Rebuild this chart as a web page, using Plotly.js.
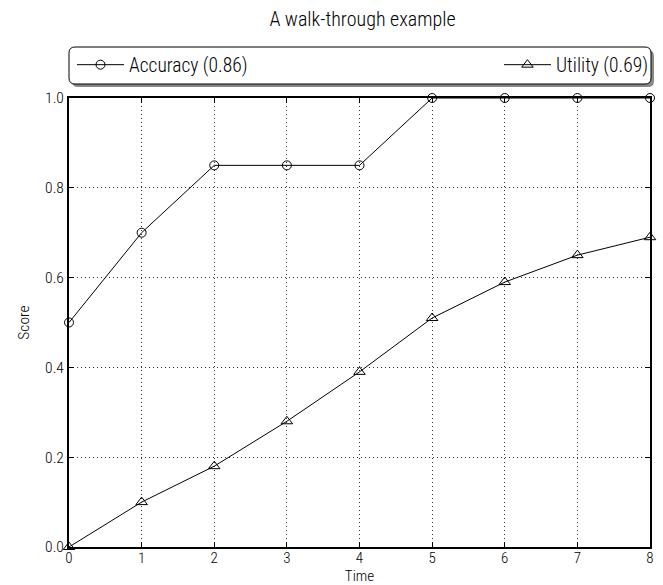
<!DOCTYPE html>
<html>
<head>
<meta charset="utf-8">
<script src="https://cdn.plot.ly/plotly-3.0.1.min.js"></script>
<style>html,body{margin:0;padding:0;background:#fff;}</style>
</head>
<body>
<div id="chart" style="width:663px;height:585px;"></div>
<script>
const timeSteps = [0, 1, 2, 3, 4, 5, 6, 7, 8];
const accuracy = [0.5, 0.7, 0.85, 0.85, 0.85, 1.0, 1.0, 1.0, 1.0];
const utility = [0.0, 0.1, 0.18, 0.28, 0.39, 0.51, 0.59, 0.65, 0.69];
const seriesNames = ['Accuracy (0.86)', 'Utility (0.69)'];
const yTicks = [0, 0.2, 0.4, 0.6, 0.8, 1.0];
const yTickLabels = ['0.0', '0.2', '0.4', '0.6', '0.8', '1.0'];

const FONT = '"Roboto Condensed", Roboto, sans-serif';
const WT = 350;

const traces = [
  {x: timeSteps, y: accuracy, name: seriesNames[0], mode: 'lines+markers',
   line: {color: '#000', width: 1},
   marker: {symbol: 'circle-open', size: 9, color: '#000', line: {width: 1}},
   cliponaxis: false, legend: 'legend'},
  {x: timeSteps, y: utility, name: seriesNames[1], mode: 'lines+markers',
   line: {color: '#000', width: 1},
   marker: {symbol: 'triangle-up-open', size: 10, color: '#000', line: {width: 1}},
   cliponaxis: false, legend: 'legend2'}
];

const W = 663, H = 585, ml = 69, mr = 10, mt = 98, mb = 38;
const pw = W - ml - mr, ph = H - mt - mb;
const px = v => (v - ml) / pw;
const py = v => (H - mb - v) / ph;

function rrect(X0, Y0, X1, Y1, r) {
  const x0 = px(X0), x1 = px(X1), y0 = py(Y0), y1 = py(Y1);
  const rx = r / pw, ry = r / ph;
  return `M ${x0+rx},${y0} L ${x1-rx},${y0} Q ${x1},${y0} ${x1},${y0-ry} L ${x1},${y1+ry} Q ${x1},${y1} ${x1-rx},${y1} L ${x0+rx},${y1} Q ${x0},${y1} ${x0},${y1+ry} L ${x0},${y0-ry} Q ${x0},${y0} ${x0+rx},${y0} Z`;
}

const axisCommon = {
  showline: true, linecolor: '#000', linewidth: 2, mirror: 'allticks',
  ticks: 'inside', ticklen: 5, tickwidth: 1, tickcolor: '#000',
  showgrid: true, gridcolor: '#333', gridwidth: 1, griddash: '1px,3px',
  zeroline: false, tickfont: {family: FONT, size: 15.5, color: '#000', weight: WT}
};

const layout = {
  width: W, height: H,
  margin: {l: ml, r: mr, t: mt, b: mb},
  paper_bgcolor: '#fff', plot_bgcolor: '#fff',
  font: {family: FONT, color: '#000', weight: WT},
  title: {text: 'A walk-through example', x: px(364), xref: 'paper', xanchor: 'center', y: 1 - 19/H, yanchor: 'middle',
          font: {family: FONT, size: 20, color: '#000', weight: WT}},
  xaxis: Object.assign({}, axisCommon, {
    range: [0, 8], tickvals: timeSteps, ticktext: timeSteps.map(String),
    ticklabelstandoff: -4,
    tickfont: {family: FONT, size: 15, color: '#000', weight: WT},
    title: {text: 'Time', font: {family: FONT, size: 15, color: '#000', weight: WT}, standoff: 2}
  }),
  yaxis: Object.assign({}, axisCommon, {
    range: [0, 1], tickvals: yTicks, ticktext: yTickLabels,
    title: {text: 'Score', font: {family: FONT, size: 15.5, color: '#000', weight: WT}, standoff: 12}
  }),
  showlegend: true,
  legend: {x: px(72), xanchor: 'left', y: py(65), yanchor: 'middle', orientation: 'h', itemwidth: 47,
           bgcolor: 'rgba(0,0,0,0)', borderwidth: 0, font: {family: FONT, size: 19.5, color: '#000', weight: WT}},
  legend2: {x: px(656), xanchor: 'right', y: py(65), yanchor: 'middle', orientation: 'h', itemwidth: 47,
           bgcolor: 'rgba(0,0,0,0)', borderwidth: 0, font: {family: FONT, size: 19.5, color: '#000', weight: WT}},
  shapes: [
    {type: 'path', xref: 'paper', yref: 'paper', layer: 'below',
     path: rrect(72, 50, 657, 87, 6), fillcolor: '#888', line: {width: 0}},
    {type: 'path', xref: 'paper', yref: 'paper', layer: 'below',
     path: rrect(69, 47, 654, 84, 6), fillcolor: '#fff', line: {color: '#000', width: 1}}
  ]
};

Plotly.newPlot('chart', traces, layout, {displayModeBar: false, staticPlot: true});
</script>
</body>
</html>
